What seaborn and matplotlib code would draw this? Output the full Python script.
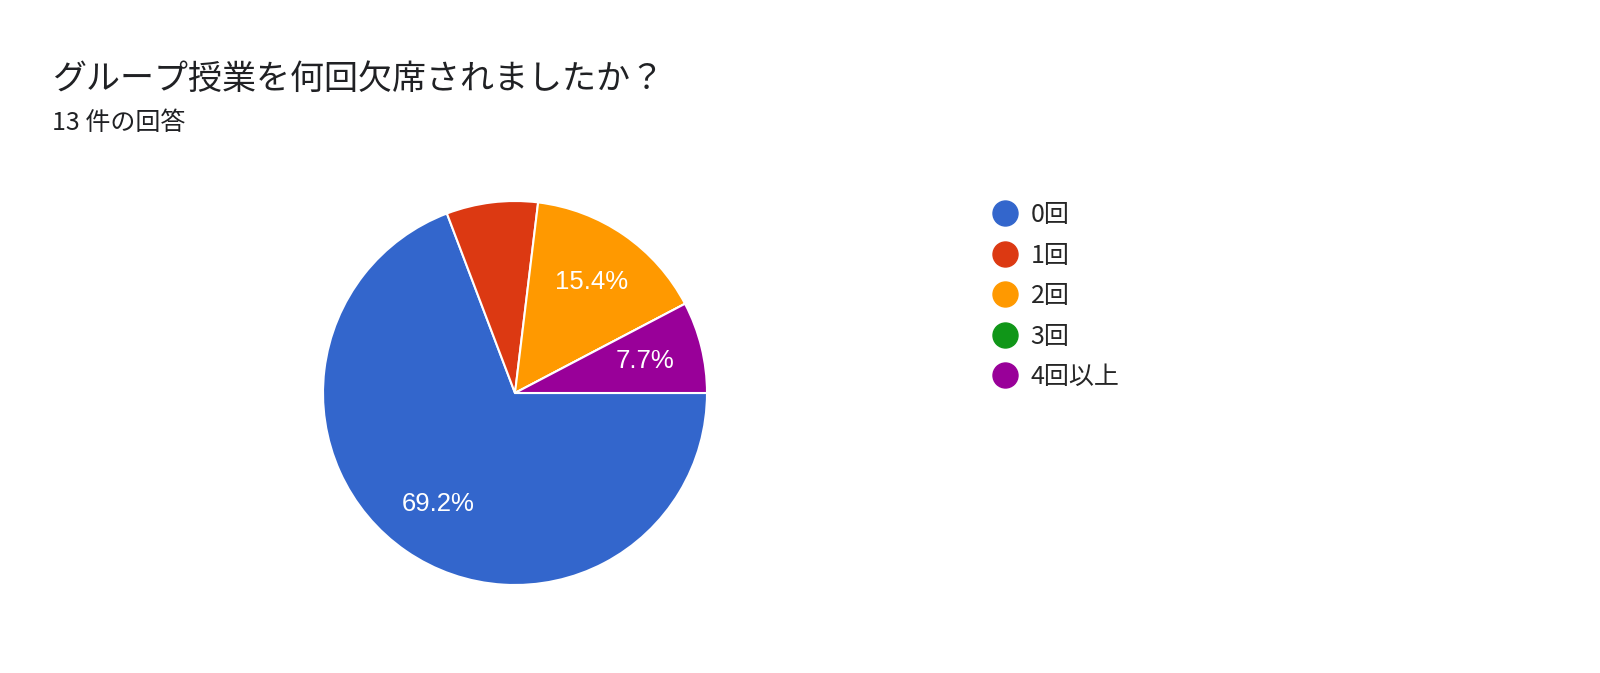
import matplotlib
matplotlib.use("Agg")
import numpy as np
import matplotlib.pyplot as plt
import seaborn as sns
from matplotlib.lines import Line2D

# Data (13 responses)
categories = ["0回", "1回", "2回", "3回", "4回以上"]
counts = [9, 1, 2, 0, 1]
show_pct = [True, False, True, False, True]  # labels shown inside slices
colors = ["#3366cc", "#dc3912", "#ff9900", "#109618", "#990099"]

title = "グループ授業を何回欠席されましたか？"
subtitle = f"{sum(counts)} 件の回答"

sns.set_theme(style="white")
plt.rcParams['font.family'] = ['Noto Sans CJK JP', 'DejaVu Sans']

W, H = 1600, 673
fig = plt.figure(figsize=(W / 100, H / 100), dpi=100)
fig.patch.set_facecolor("white")

# pie axes: center (515, 393) px, radius 192 px
cx, cy, r = 515, 393, 192
ax = fig.add_axes([(cx - r) / W, (H - cy - r) / H, 2 * r / W, 2 * r / H])

total = sum(counts)
wedges, _ = ax.pie(counts, colors=colors, startangle=0, counterclock=False,
                   wedgeprops=dict(edgecolor="white", linewidth=1.5))
ax.set_xlim(-1, 1)
ax.set_ylim(-1, 1)
ax.set_aspect("equal")
ax.axis("off")

# percentage labels
theta = 0.0
for c, show in zip(counts, show_pct):
    frac = c / total
    mid = theta - frac * 360 / 2
    theta -= frac * 360
    if show and c > 0:
        x = 0.70 * np.cos(np.radians(mid))
        y = 0.70 * np.sin(np.radians(mid))
        ax.text(x, y, f"{frac * 100:.1f}%", ha="center", va="center",
                color="white", fontsize=18.5, family=["Liberation Sans", "DejaVu Sans"])

fig.text(52 / W, 1 - 79 / H, title, fontsize=24.5, color="#202124",
         ha="left", va="center")
fig.text(52 / W, 1 - 123 / H, subtitle, fontsize=18, color="#202124",
         ha="left", va="center")

handles = [Line2D([0], [0], marker="o", linestyle="", markersize=18,
                  markerfacecolor=col, markeredgecolor=col) for col in colors]
fig.legend(handles, categories, loc="upper left",
           bbox_to_anchor=(992 / W, 1 - 202 / H), frameon=False,
           fontsize=18, labelspacing=0.58, handletextpad=0.55,
           handlelength=1.0, borderaxespad=0, borderpad=0)

fig.savefig("out.png", dpi=100, facecolor="white")
